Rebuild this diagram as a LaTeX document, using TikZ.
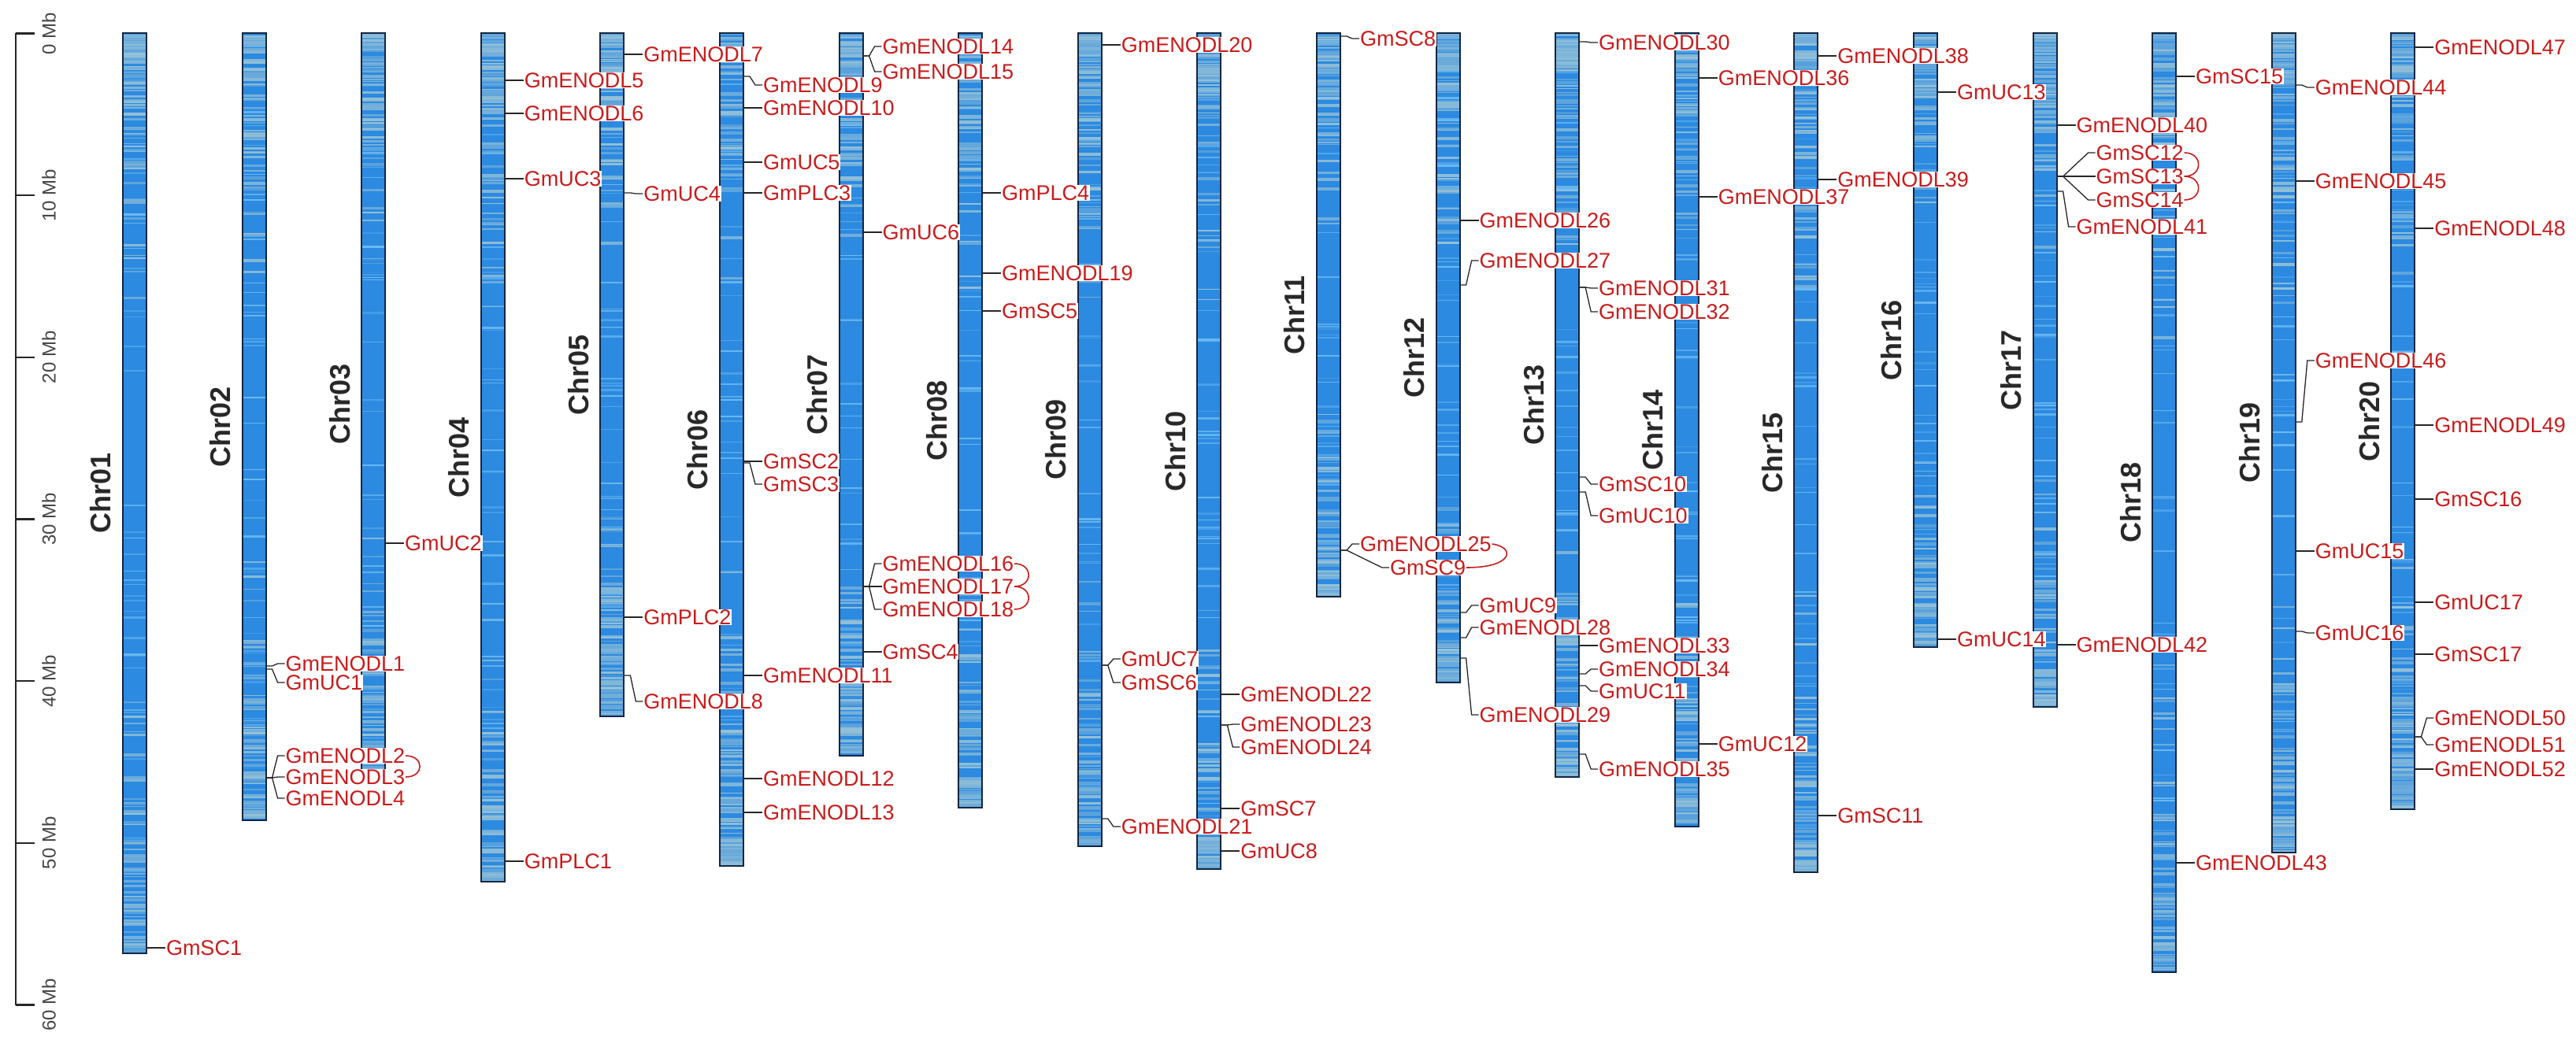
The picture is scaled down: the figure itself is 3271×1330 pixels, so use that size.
\documentclass[tikz,border=0pt]{standalone}
\usepackage{fontspec}
\setmainfont{Liberation Sans}
\usetikzlibrary{calc}
\definecolor{chrblue}{RGB}{44,138,224}
\definecolor{stripeblue}{RGB}{120,195,245}
\definecolor{stripegray}{RGB}{155,196,214}
\definecolor{chrborder}{RGB}{18,38,68}
\definecolor{lblred}{RGB}{200,28,28}
\definecolor{chrtext}{RGB}{40,40,40}
\definecolor{scltext}{RGB}{70,70,70}
\tikzset{
 lbl/.style={anchor=west,text=lblred,fill=white,inner sep=0.8pt,font=\fontsize{27}{27}\selectfont},
 conn/.style={draw=black!85,line width=1.3pt},
 dup/.style={draw=lblred,line width=1.6pt},
 chrlbl/.style={rotate=90,text=chrtext,font=\bfseries\fontsize{36}{36}\selectfont,inner sep=0pt},
 scllbl/.style={rotate=90,text=scltext,font=\fontsize{24}{24}\selectfont,inner sep=0pt},
 sclline/.style={draw=black!85,line width=2.5pt},
 chrframe/.style={draw=chrborder,line width=2pt},
}
\newcommand\chrom[4]{%
  \pgfmathsetmacro\chrX{156+151.6*(#1-1)}%
  \pgfmathsetmacro\chrH{20.57*#2}%
  \fill[chrblue] (\chrX,42.4) rectangle ++(30,\chrH);
  \pgfmathsetseed{#3}%
  \foreach \k in {1,...,45}{%
    \pgfmathsetmacro\stY{42.4+rnd*(\chrH-3)}%
    \pgfmathsetmacro\stH{0.8+1.8*rnd}%
    \pgfmathtruncatemacro\stM{25+60*rnd}%
    \fill[stripeblue!\stM!chrblue] (\chrX+1,\stY) rectangle ++(28,\stH);
  }
  \foreach \k in {1,...,150}{%
    \pgfmathsetmacro\stF{0.36*rnd*rnd}%
    \pgfmathsetmacro\stY{(rnd<0.5) ? (42.4+\stF*\chrH) : (42.4+(1-\stF)*\chrH-3)}%
    \pgfmathsetmacro\stH{1+3*rnd}%
    \pgfmathtruncatemacro\stM{35+60*rnd}%
    \fill[stripegray!\stM!chrblue] (\chrX+1,\stY) rectangle ++(28,\stH);
  }
  \draw[chrframe] (\chrX,42.4) rectangle ++(30,\chrH);
  \node[chrlbl] (chr#1) at (\chrX-28,42.4+\chrH/2) {#4};
}
\newcommand\gmark[6][24]{%
  \pgfmathsetmacro\gx{156+151.6*(#3-1)+30}%
  \coordinate (g#2) at (\gx,#4);
  \node[lbl] (#2) at (\gx+#1,#5) {#6};
  \draw[conn] (g#2) -- ++(8,0) -- ($(#2.west)+(-9,0)$) -- (#2.west);
}
\begin{document}
\begin{tikzpicture}[x=1pt,y=-1pt]
\fill[white] (0,0) rectangle (3271,1330);
\useasboundingbox (0,0) rectangle (3271,1330);
% scale bar
\draw[sclline] (20,42.4) -- (20,1276.6);
\foreach \m in {0,10,...,60}{
  \coordinate (t\m) at (20,42.4+20.57*\m);
  \draw[sclline] (t\m) -- ++(24,0);
  \node[scllbl] (tl\m) at (62,42.4+20.57*\m) {\m\ Mb};
}
% chromosomes
\chrom{1}{56.8}{11}{Chr01}
\chrom{2}{48.6}{12}{Chr02}
\chrom{3}{45.8}{13}{Chr03}
\chrom{4}{52.4}{14}{Chr04}
\chrom{5}{42.2}{15}{Chr05}
\chrom{6}{51.4}{16}{Chr06}
\chrom{7}{44.6}{17}{Chr07}
\chrom{8}{47.8}{18}{Chr08}
\chrom{9}{50.2}{19}{Chr09}
\chrom{10}{51.6}{20}{Chr10}
\chrom{11}{34.8}{21}{Chr11}
\chrom{12}{40.1}{22}{Chr12}
\chrom{13}{45.9}{23}{Chr13}
\chrom{14}{49.0}{24}{Chr14}
\chrom{15}{51.8}{25}{Chr15}
\chrom{16}{37.9}{26}{Chr16}
\chrom{17}{41.6}{27}{Chr17}
\chrom{18}{58.0}{28}{Chr18}
\chrom{19}{50.6}{29}{Chr19}
\chrom{20}{47.9}{30}{Chr20}
% genes
\gmark{s1}{1}{1204}{1204}{GmSC1}
\gmark{e1}{2}{846}{843}{GmENODL1}
\gmark{u1}{2}{850}{867}{GmUC1}
\gmark{e2}{2}{988}{960}{GmENODL2}
\gmark{e3}{2}{988}{987}{GmENODL3}
\gmark{e4}{2}{988}{1014}{GmENODL4}
\gmark{u2}{3}{690}{690}{GmUC2}
\gmark{e5}{4}{102}{102}{GmENODL5}
\gmark{e6}{4}{144}{144}{GmENODL6}
\gmark{u3}{4}{227}{227}{GmUC3}
\gmark{p1}{4}{1094}{1094}{GmPLC1}
\gmark{e7}{5}{69}{69}{GmENODL7}
\gmark{u4}{5}{245}{246}{GmUC4}
\gmark{p2}{5}{784}{784}{GmPLC2}
\gmark{e8}{5}{858}{891}{GmENODL8}
\gmark{e9}{6}{97}{108}{GmENODL9}
\gmark{e10}{6}{137}{137}{GmENODL10}
\gmark{u5}{6}{206}{206}{GmUC5}
\gmark{p3}{6}{245}{245}{GmPLC3}
\gmark{s2}{6}{586}{586}{GmSC2}
\gmark{s3}{6}{588}{615}{GmSC3}
\gmark{e11}{6}{858}{858}{GmENODL11}
\gmark{e12}{6}{989}{989}{GmENODL12}
\gmark{e13}{6}{1032}{1032}{GmENODL13}
\gmark{e14}{7}{71}{59}{GmENODL14}
\gmark{e15}{7}{71}{91}{GmENODL15}
\gmark{u6}{7}{295}{295}{GmUC6}
\gmark{e16}{7}{745}{716}{GmENODL16}
\gmark{e17}{7}{745}{745}{GmENODL17}
\gmark{e18}{7}{745}{774}{GmENODL18}
\gmark{s4}{7}{828}{828}{GmSC4}
\gmark{p4}{8}{245}{245}{GmPLC4}
\gmark{e19}{8}{347}{347}{GmENODL19}
\gmark{s5}{8}{395}{395}{GmSC5}
\gmark{e20}{9}{57}{57}{GmENODL20}
\gmark{u7}{9}{845}{837}{GmUC7}
\gmark{s6}{9}{845}{867}{GmSC6}
\gmark{e21}{9}{1040}{1050}{GmENODL21}
\gmark{e22}{10}{882}{882}{GmENODL22}
\gmark{e23}{10}{921}{920}{GmENODL23}
\gmark{e24}{10}{921}{949}{GmENODL24}
\gmark{s7}{10}{1027}{1027}{GmSC7}
\gmark{u8}{10}{1081}{1081}{GmUC8}
\gmark{s8}{11}{46}{49}{GmSC8}
\gmark{e25}{11}{699}{691}{GmENODL25}
\gmark[62]{s9}{11}{699}{721}{GmSC9}
\gmark{e26}{12}{280}{280}{GmENODL26}
\gmark{e27}{12}{362}{331}{GmENODL27}
\gmark{u9}{12}{778}{769}{GmUC9}
\gmark{e28}{12}{810}{797}{GmENODL28}
\gmark{e29}{12}{836}{908}{GmENODL29}
\gmark{e30}{13}{53}{54}{GmENODL30}
\gmark{e31}{13}{365}{366}{GmENODL31}
\gmark{e32}{13}{365}{396}{GmENODL32}
\gmark{s10}{13}{606}{615}{GmSC10}
\gmark{u10}{13}{625}{655}{GmUC10}
\gmark{e33}{13}{820}{820}{GmENODL33}
\gmark{e34}{13}{856}{850}{GmENODL34}
\gmark{u11}{13}{871}{878}{GmUC11}
\gmark{e35}{13}{958}{977}{GmENODL35}
\gmark{e36}{14}{99}{99}{GmENODL36}
\gmark{e37}{14}{250}{250}{GmENODL37}
\gmark{u12}{14}{945}{945}{GmUC12}
\gmark{e38}{15}{71}{71}{GmENODL38}
\gmark{e39}{15}{228}{228}{GmENODL39}
\gmark{s11}{15}{1036}{1036}{GmSC11}
\gmark{u13}{16}{117}{117}{GmUC13}
\gmark{u14}{16}{812}{812}{GmUC14}
\gmark{e40}{17}{159}{159}{GmENODL40}
\gmark[49]{s12}{17}{224}{194}{GmSC12}
\gmark[49]{s13}{17}{224}{224}{GmSC13}
\gmark[49]{s14}{17}{224}{254}{GmSC14}
\gmark{e41}{17}{243}{288}{GmENODL41}
\gmark{e42}{17}{819}{819}{GmENODL42}
\gmark{s15}{18}{97}{97}{GmSC15}
\gmark{e43}{18}{1096}{1096}{GmENODL43}
\gmark{e44}{19}{108}{111}{GmENODL44}
\gmark{e45}{19}{230}{230}{GmENODL45}
\gmark{e46}{19}{536}{458}{GmENODL46}
\gmark{u15}{19}{700}{700}{GmUC15}
\gmark{u16}{19}{802}{804}{GmUC16}
\gmark{e47}{20}{60}{60}{GmENODL47}
\gmark{e48}{20}{290}{290}{GmENODL48}
\gmark{e49}{20}{540}{540}{GmENODL49}
\gmark{s16}{20}{634}{634}{GmSC16}
\gmark{u17}{20}{765}{765}{GmUC17}
\gmark{s17}{20}{831}{831}{GmSC17}
\gmark{e50}{20}{936}{912}{GmENODL50}
\gmark{e51}{20}{936}{946}{GmENODL51}
\gmark{e52}{20}{977}{977}{GmENODL52}
% tandem duplication arcs
\draw[dup] (e2.east) .. controls +(24,0) and +(24,0) .. (e3.east);
\draw[dup] (e16.east) .. controls +(24,0) and +(24,0) .. (e17.east);
\draw[dup] (e17.east) .. controls +(24,0) and +(24,0) .. (e18.east);
\draw[dup] (e25.east) .. controls +(30,4) and +(60,0) .. (s9.east);
\draw[dup] (s12.east) .. controls +(24,0) and +(24,0) .. (s13.east);
\draw[dup] (s13.east) .. controls +(24,0) and +(24,0) .. (s14.east);
\end{tikzpicture}
\end{document}
